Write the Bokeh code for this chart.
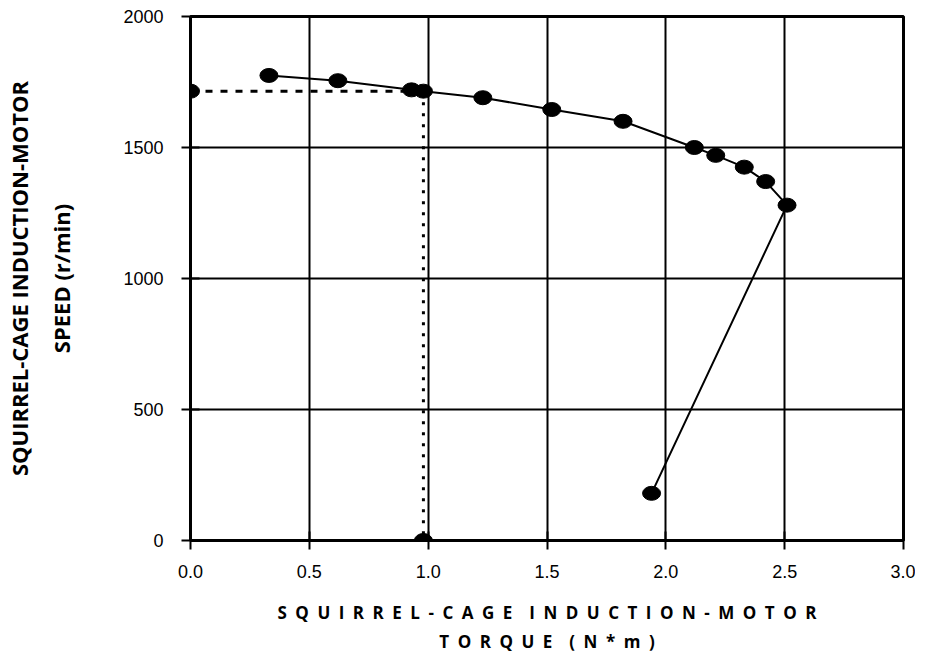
from bokeh.plotting import figure
from bokeh.models import Range1d, FixedTicker, ColumnDataSource
from bokeh.embed import file_html
from bokeh.resources import INLINE

# Data
torque = [0.33, 0.62, 0.93, 0.98, 1.23, 1.52, 1.82, 2.12, 2.21, 2.33, 2.42, 2.51, 1.94]
speed = [1775, 1755, 1720, 1715, 1690, 1645, 1600, 1500, 1470, 1425, 1370, 1280, 180]

op_torque = [0.0, 0.98]
op_speed = [1715, 0]
guide_h_x = [0.0, 0.98]
guide_h_y = [1715, 1715]
guide_v_x = [0.98, 0.98]
guide_v_y = [1715, 0]

x_ticks = [0.0, 0.5, 1.0, 1.5, 2.0, 2.5, 3.0]
y_ticks = [0, 500, 1000, 1500, 2000]

x_title_lines = ["SQUIRREL-CAGE INDUCTION-MOTOR", "TORQUE (N*m)"]
y_title_lines = ["SQUIRREL-CAGE INDUCTION-MOTOR", "SPEED (r/min)"]


def spaced(s):
    # wide letter spacing as in the reference
    words = s.split(" ")
    return "\u2002\u2002".join("\u2002".join(w) for w in words)


p = figure(frame_width=713, frame_height=524, output_backend="svg", toolbar_location=None,
           x_range=Range1d(0, 3), y_range=Range1d(0, 2000),
           min_border_left=190, min_border_right=12,
           min_border_top=16, min_border_bottom=0)
p.background_fill_color = "white"
p.border_fill_color = "white"
p.outline_line_color = "black"
p.outline_line_width = 3

for ax in (p.xaxis[0], p.yaxis[0]):
    ax.axis_line_color = "black"
    ax.axis_line_width = 2
    ax.major_tick_line_color = "black"
    ax.major_tick_line_width = 2
    ax.major_tick_in = 9
    ax.major_tick_out = 9
    ax.minor_tick_line_color = None
    ax.major_label_text_font = "Liberation Sans"
    ax.major_label_text_font_size = "18px"
    ax.major_label_text_color = "black"
    ax.axis_label_text_font = "Open Sans"
    ax.axis_label_text_font_style = "bold"
    ax.axis_label_text_color = "black"

p.xaxis.ticker = FixedTicker(ticks=x_ticks)
p.yaxis.ticker = FixedTicker(ticks=y_ticks)
p.xaxis.major_label_overrides = {t: "%.1f" % t for t in x_ticks}
p.xaxis.major_label_standoff = 15
p.yaxis.major_label_standoff = 18

p.xaxis.axis_label = "\n".join(spaced(s) for s in x_title_lines)
p.xaxis.axis_label_text_font_size = "17px"
p.xaxis.axis_label_standoff = 20
p.xaxis.axis_label_text_line_height = 1.3
p.yaxis.axis_label = "\n".join(y_title_lines)
p.yaxis.axis_label_text_font_size = "22px"
p.yaxis.axis_label_standoff = 44
p.yaxis.axis_label_text_line_height = 1.42

p.xgrid.grid_line_color = "black"
p.xgrid.grid_line_width = 2
p.ygrid.grid_line_color = "black"
p.ygrid.grid_line_width = 2

# guide lines
p.line(guide_h_x, guide_h_y, line_color="black", line_width=3, line_dash="7 8")
p.line(guide_v_x, guide_v_y, line_color="black", line_width=3, line_dash="3 8")

src = ColumnDataSource(dict(x=torque, y=speed))
p.line("x", "y", source=src, line_color="black", line_width=2)
p.ellipse("x", "y", source=src, width=18, height=14,
          width_units="screen", height_units="screen",
          fill_color="black", line_color="black")
p.ellipse(op_torque, op_speed, width=18, height=14,
          width_units="screen", height_units="screen",
          fill_color="black", line_color="black")

open("out.html", "w").write(file_html(p, INLINE))
